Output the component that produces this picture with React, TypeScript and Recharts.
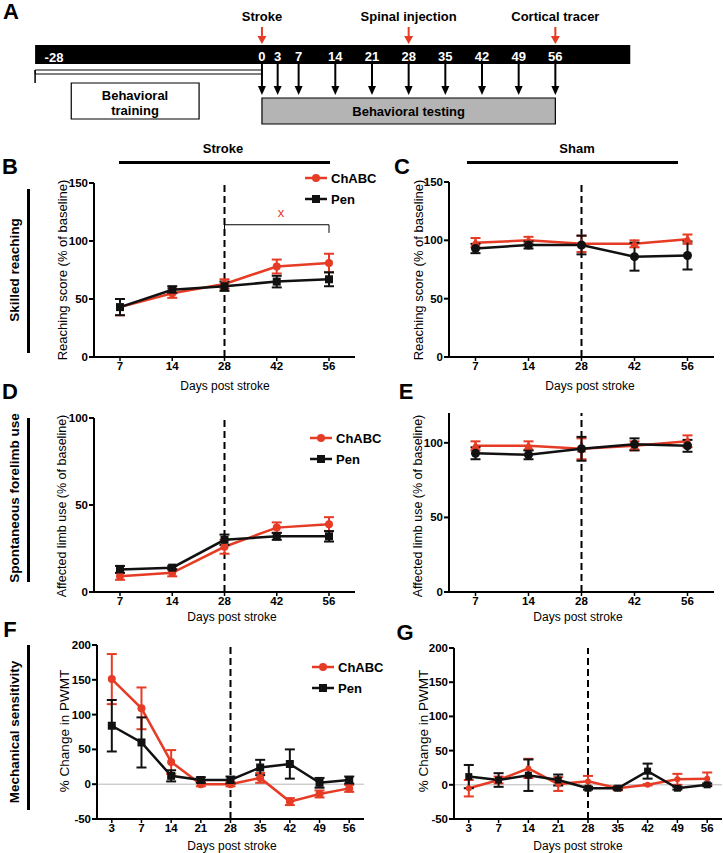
import React from "react";
import {
  LineChart,
  Line,
  XAxis,
  YAxis,
  ErrorBar,
  ReferenceLine,
  ReferenceArea,
  ScatterChart,
  Scatter,
} from "recharts";

const RED = "#e63b25";
const BLACK = "#111";
const SANS = "'Liberation Sans', Arial, sans-serif";
const NARROW = "'Liberation Sans Narrow', 'Liberation Sans', Arial, sans-serif";

const seriesNames = ["ChABC", "Pen"];

// timeline (panel A)
const timelineDays = [0, 3, 7, 14, 21, 28, 35, 42, 49, 56];
const events = [
  { day: 0, label: "Stroke" },
  { day: 28, label: "Spinal injection" },
  { day: 56, label: "Cortical tracer" },
];

// x categories
const daysShort = [7, 14, 28, 42, 56];
const daysLong = [3, 7, 14, 21, 28, 35, 42, 49, 56];

// B: skilled reaching, stroke
const reachStrokeChABC = [43, 55, 63, 78, 81];
const reachStrokeChABCErr = [7, 4, 4, 6, 8];
const reachStrokePen = [43, 58, 61, 65, 67];
const reachStrokePenErr = [7, 3, 4, 5, 6];

// C: skilled reaching, sham
const reachShamChABC = [98, 100, 97, 97, 101];
const reachShamChABCErr = [4, 3, 7, 3, 4];
const reachShamPen = [93, 96, 96, 86, 87];
const reachShamPenErr = [4, 3, 8, 12, 12];

// D: forelimb use, stroke
const limbStrokeChABC = [9, 11, 26, 37, 39];
const limbStrokeChABCErr = [2, 2, 4, 3, 4];
const limbStrokePen = [13, 14, 30, 32, 32];
const limbStrokePenErr = [2, 1, 3, 2, 3];

// E: forelimb use, sham
const limbShamChABC = [98, 98, 96, 98, 101];
const limbShamChABCErr = [3, 3, 7, 3, 4];
const limbShamPen = [93, 92, 96, 99, 98];
const limbShamPenErr = [4, 3, 8, 4, 4];

// F: PWMT, stroke
const pwmtStrokeChABC = [151, 109, 32, 0, 0, 9, -25, -14, -6];
const pwmtStrokeChABCErr = [36, 30, 17, 3, 3, 7, 5, 5, 5];
const pwmtStrokePen = [84, 60, 12, 6, 6, 24, 29, 2, 6];
const pwmtStrokePenErr = [37, 36, 8, 4, 5, 11, 21, 7, 5];

// G: PWMT, sham
const pwmtShamChABC = [-5, 7, 24, 1, 5, -5, 0, 8, 9];
const pwmtShamChABCErr = [12, 5, 14, 10, 8, 3, 1, 8, 9];
const pwmtShamPen = [12, 7, 14, 7, -5, -5, 20, -5, 0];
const pwmtShamPenErr = [17, 10, 23, 8, 2, 2, 11, 2, 2];

const toRows = (days: number[], c: number[], ce: number[], p: number[], pe: number[]) =>
  days.map((day, i) => ({ day, c: c[i], ce: ce[i], p: p[i], pe: pe[i] }));

type Shape = "circle" | "square" | "triangle";

function marker(shape: Shape, cx: number, cy: number, color: string, size: number, key?: string) {
  if (shape === "square")
    return <rect key={key} x={cx - size / 2} y={cy - size / 2} width={size} height={size} fill={color} />;
  if (shape === "triangle")
    return (
      <polygon
        key={key}
        points={`${cx},${cy - size * 0.6} ${cx - size * 0.6},${cy + size * 0.45} ${cx + size * 0.6},${cy + size * 0.45}`}
        fill={color}
      />
    );
  return <circle key={key} cx={cx} cy={cy} r={size / 2} fill={color} />;
}

const makeDot = (shape: Shape, color: string, size: number) => (p: any) => {
  if (p.cx == null || p.cy == null) return <g key={`n${p.index}`} />;
  return marker(shape, p.cx, p.cy, color, size, `${shape}-${p.index}`);
};

type PanelProps = {
  data: any[];
  l: number;
  t: number;
  r: number;
  b: number;
  domain: [number, number];
  ticks: number[];
  pad: number;
  redShape?: Shape;
  blackShape?: Shape;
  redSize?: number;
  blackSize?: number;
  zero?: boolean;
  bracket?: boolean;
};

function Panel({
  data, l, t, r, b, domain, ticks, pad,
  redShape = "circle", blackShape = "square", redSize = 8, blackSize = 8, zero, bracket,
}: PanelProps) {
  const W = r - l + 64;
  const H = b - t + 36;
  const tickStyle = { fill: "#000", fontSize: 11.5, fontWeight: 700, fontFamily: SANS };
  return (
    <div style={{ position: "absolute", left: l - 60, top: t - 12 }}>
      <LineChart width={W} height={H} data={data} margin={{ top: 12, right: 4, bottom: 0, left: 0 }}>
        <XAxis
          dataKey="day"
          padding={{ left: pad, right: pad }}
          axisLine={{ stroke: "#000", strokeWidth: 2 }}
          tickLine={{ stroke: "#000", strokeWidth: 1.5 }}
          tickSize={4}
          tickMargin={1}
          tick={tickStyle}
          height={24}
          interval={0}
        />
        <YAxis
          type="number"
          domain={domain}
          ticks={ticks}
          width={60}
          interval={0}
          axisLine={{ stroke: "#000", strokeWidth: 2 }}
          tickLine={{ stroke: "#000", strokeWidth: 2 }}
          tickSize={5}
          tickMargin={1}
          tick={tickStyle}
        />
        {zero && <ReferenceLine y={0} stroke="#b8b8b8" strokeWidth={1} />}
        <ReferenceLine x={28} stroke="#000" strokeWidth={2} strokeDasharray="7 4" />
        {bracket && (
          <ReferenceLine segment={[{ x: 28, y: 114 }, { x: 56, y: 114 }]} stroke="#000" strokeWidth={1} />
        )}
        {bracket && (
          <ReferenceLine segment={[{ x: 28, y: 114 }, { x: 28, y: 107 }]} stroke="#000" strokeWidth={1} />
        )}
        {bracket && (
          <ReferenceLine segment={[{ x: 56, y: 114 }, { x: 56, y: 107 }]} stroke="#000" strokeWidth={1} />
        )}
        <Line
          type="linear"
          dataKey="c"
          stroke={RED}
          strokeWidth={2.5}
          dot={makeDot(redShape, RED, redSize)}
          activeDot={false}
          isAnimationActive={false}
        >
          <ErrorBar dataKey="ce" width={5} strokeWidth={2} stroke={RED} />
        </Line>
        <Line
          type="linear"
          dataKey="p"
          stroke={BLACK}
          strokeWidth={2.5}
          dot={makeDot(blackShape, BLACK, blackSize)}
          activeDot={false}
          isAnimationActive={false}
        >
          <ErrorBar dataKey="pe" width={5} strokeWidth={2} stroke={BLACK} />
        </Line>
      </LineChart>
    </div>
  );
}

function Txt({
  x, y, children, size = 12, bold = false, rot = false, color = "#000", family = SANS,
}: any) {
  return (
    <div
      style={{
        position: "absolute",
        left: x,
        top: y,
        transform: `translate(-50%, -50%)${rot ? " rotate(-90deg)" : ""}`,
        fontSize: size,
        fontWeight: bold ? 700 : 400,
        whiteSpace: "nowrap",
        lineHeight: 1,
        color,
        fontFamily: family,
      }}
    >
      {children}
    </div>
  );
}

const Bar = ({ x, y, w, h }: any) => (
  <div style={{ position: "absolute", left: x, top: y, width: w, height: h, background: "#000" }} />
);

function LegendBox({ x, y }: { x: number; y: number }) {
  const rows: { name: string; color: string; shape: Shape }[] = [
    { name: seriesNames[0], color: RED, shape: "circle" },
    { name: seriesNames[1], color: BLACK, shape: "square" },
  ];
  return (
    <>
      {rows.map((row, i) => (
        <div
          key={row.name}
          style={{ position: "absolute", left: x, top: y + i * 21 - 8, height: 16, display: "flex", alignItems: "center" }}
        >
          <svg width={22} height={16}>
            <line x1={0} y1={8} x2={22} y2={8} stroke={row.color} strokeWidth={2.5} />
            {marker(row.shape, 11, 8, row.color, 8)}
          </svg>
          <span style={{ fontSize: 13, fontWeight: 700, marginLeft: 4, fontFamily: SANS }}>{row.name}</span>
        </div>
      ))}
    </>
  );
}

const TestArrow = (props: any) => {
  const { cx, cy, payload } = props;
  return (
    <g>
      <text x={cx} y={cy - 3} textAnchor="middle" fill="#fff" fontSize={13} fontWeight={700} fontFamily={NARROW}>
        {payload.day}
      </text>
      <line x1={cx} y1={cy} x2={cx} y2={cy + 23} stroke="#000" strokeWidth={2} />
      <polygon points={`${cx - 4},${cy + 22} ${cx + 4},${cy + 22} ${cx},${cy + 31}`} fill="#000" />
    </g>
  );
};

const EventArrow = (props: any) => {
  const { cx, cy, payload } = props;
  return (
    <g>
      <text x={cx} y={cy - 6} textAnchor="middle" fill="#000" fontSize={13} fontWeight={700} fontFamily={NARROW}>
        {payload.label}
      </text>
      <line x1={cx} y1={cy} x2={cx} y2={cy + 10} stroke={RED} strokeWidth={2} />
      <polygon points={`${cx - 4.5},${cy + 9} ${cx + 4.5},${cy + 9} ${cx},${cy + 17}`} fill={RED} />
    </g>
  );
};

function Timeline() {
  const testRows = timelineDays.map((day) => ({ day, y: 64 }));
  const eventRows = events.map((e) => ({ ...e, y: 27 }));
  return (
    <div style={{ position: "absolute", left: 0, top: 0 }}>
      <ScatterChart width={723} height={130} margin={{ top: 0, right: 0, bottom: 0, left: 0 }}>
        <XAxis type="number" dataKey="day" domain={[-50, 88]} hide />
        <YAxis type="number" dataKey="y" domain={[0, 130]} reversed hide />
        <ReferenceArea x1={-43.3} x2={70.3} y1={45} y2={64} fill="#000" fillOpacity={1} stroke="none" />
        <ReferenceArea x1={-43.3} x2={0} y1={70} y2={74} fill="#fff" fillOpacity={1} stroke="#000" strokeWidth={1} />
        <ReferenceLine segment={[{ x: -43.3, y: 70 }, { x: -43.3, y: 83 }]} stroke="#000" strokeWidth={1.5} />
        <ReferenceArea x1={-36.4} x2={-12} y1={83} y2={119} fill="#fff" fillOpacity={1} stroke="#000" strokeWidth={1.2} />
        <ReferenceArea
          x1={0}
          x2={56}
          y1={98}
          y2={124}
          fill="#b4b4b4"
          fillOpacity={1}
          stroke="#000"
          strokeWidth={1.2}
          label={{ value: "Behavioral testing", position: "center", fill: "#000", fontSize: 13, fontWeight: 700, fontFamily: NARROW }}
        />
        <Scatter data={testRows} shape={TestArrow} isAnimationActive={false} />
        <Scatter data={eventRows} shape={EventArrow} isAnimationActive={false} />
      </ScatterChart>
    </div>
  );
}

export default function App() {
  const dataB = toRows(daysShort, reachStrokeChABC, reachStrokeChABCErr, reachStrokePen, reachStrokePenErr);
  const dataC = toRows(daysShort, reachShamChABC, reachShamChABCErr, reachShamPen, reachShamPenErr);
  const dataD = toRows(daysShort, limbStrokeChABC, limbStrokeChABCErr, limbStrokePen, limbStrokePenErr);
  const dataE = toRows(daysShort, limbShamChABC, limbShamChABCErr, limbShamPen, limbShamPenErr);
  const dataF = toRows(daysLong, pwmtStrokeChABC, pwmtStrokeChABCErr, pwmtStrokePen, pwmtStrokePenErr);
  const dataG = toRows(daysLong, pwmtShamChABC, pwmtShamChABCErr, pwmtShamPen, pwmtShamPenErr);

  return (
    <div
      style={{
        position: "relative",
        width: 723,
        height: 853,
        overflow: "hidden",
        background: "#fff",
        fontFamily: SANS,
        color: "#000",
      }}
    >
      <style>{"body{margin:0}"}</style>

      {/* A */}
      <Timeline />
      <Txt x={11} y={12} size={22} bold>A</Txt>
      <Txt x={54} y={57} size={13} bold color="#fff" family={NARROW}>-28</Txt>
      <Txt x={135} y={95} size={13} bold family={NARROW}>Behavioral</Txt>
      <Txt x={135} y={110} size={13} bold family={NARROW}>training</Txt>

      {/* group titles */}
      <Txt x={223} y={148} size={13} bold>Stroke</Txt>
      <Bar x={119} y={161} w={211} h={2.5} />
      <Txt x={577} y={148} size={13} bold>Sham</Txt>
      <Bar x={467} y={161} w={211} h={2.5} />

      {/* row labels */}
      <Txt x={15} y={270} size={13.5} bold rot>Skilled reaching</Txt>
      <Bar x={27} y={189} w={2.5} h={164} />
      <Txt x={15} y={498} size={13.5} bold rot>Spontaneous forelimb use</Txt>
      <Bar x={27} y={418} w={2.5} h={164} />
      <Txt x={15} y={732} size={13.5} bold rot>Mechanical sensitivity</Txt>
      <Bar x={27} y={645} w={2.5} h={165} />

      {/* B */}
      <Panel data={dataB} l={94} t={183} r={355} b={357} domain={[0, 150]} ticks={[0, 50, 100, 150]} pad={26} bracket />
      <Txt x={10} y={167} size={22} bold>B</Txt>
      <Txt x={62} y={270} size={13} rot>Reaching score (% of baseline)</Txt>
      <Txt x={225} y={386} size={12}>Days post stroke</Txt>
      <Txt x={281} y={212} size={13} color={RED}>x</Txt>
      <LegendBox x={305} y={178} />

      {/* C */}
      <Panel
        data={dataC} l={449} t={182} r={714} b={357} domain={[0, 150]} ticks={[0, 50, 100, 150]} pad={26.5}
        redShape="triangle" blackShape="circle" blackSize={9}
      />
      <Txt x={402} y={167} size={22} bold>C</Txt>
      <Txt x={418} y={270} size={13} rot>Reaching score (% of baseline)</Txt>
      <Txt x={590} y={386} size={12}>Days post stroke</Txt>

      {/* D */}
      <Panel data={dataD} l={94} t={418} r={355} b={592} domain={[0, 100]} ticks={[0, 50, 100]} pad={26} />
      <Txt x={10} y={392} size={22} bold>D</Txt>
      <Txt x={62} y={506} size={12.5} rot>Affected limb use (% of baseline)</Txt>
      <Txt x={232} y={617} size={12}>Days post stroke</Txt>
      <LegendBox x={310} y={438} />

      {/* E */}
      <Panel
        data={dataE} l={449} t={413} r={714} b={592} domain={[0, 120]} ticks={[0, 50, 100]} pad={26.5}
        redShape="triangle" blackShape="circle" blackSize={9}
      />
      <Txt x={406} y={392} size={22} bold>E</Txt>
      <Txt x={418} y={506} size={12.5} rot>Affected limb use (% of baseline)</Txt>
      <Txt x={578} y={617} size={12}>Days post stroke</Txt>

      {/* F */}
      <Panel
        data={dataF} l={97} t={645} r={364} b={819} domain={[-50, 200]} ticks={[-50, 0, 50, 100, 150, 200]} pad={14.8}
        zero
      />
      <Txt x={10} y={630} size={22} bold>F</Txt>
      <Txt x={65} y={731} size={13.5} rot>% Change in PWMT</Txt>
      <Txt x={232} y={846} size={12}>Days post stroke</Txt>
      <LegendBox x={312} y={667} />

      {/* G */}
      <Panel
        data={dataG} l={454} t={648} r={722} b={819} domain={[-50, 200]} ticks={[-50, 0, 50, 100, 150, 200]} pad={14.8}
        zero redSize={6} blackSize={7}
      />
      <Txt x={405} y={633} size={22} bold>G</Txt>
      <Txt x={424} y={731} size={13.5} rot>% Change in PWMT</Txt>
      <Txt x={578} y={846} size={12}>Days post stroke</Txt>
    </div>
  );
}
